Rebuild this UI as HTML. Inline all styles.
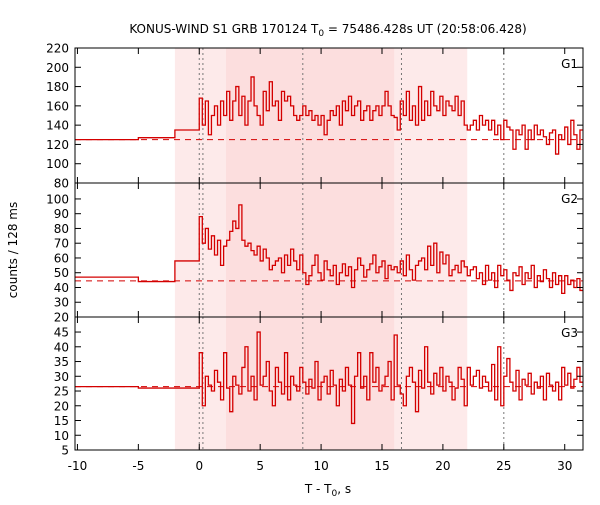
<!DOCTYPE html>
<html><head><meta charset="utf-8"><style>
body{margin:0;background:#fff;}
svg{font-family:"DejaVu Sans","Liberation Sans",sans-serif;}
</style></head><body>
<svg id="c" width="600" height="500" xmlns="http://www.w3.org/2000/svg">
<text x="328" y="33" font-size="12" text-anchor="middle">KONUS-WIND S1 GRB 170124 T<tspan font-size="9" dy="3">0</tspan><tspan dy="-3"> = 75486.428s UT (20:58:06.428)</tspan></text>
<text x="0" y="0" font-size="12" text-anchor="middle" transform="translate(17,250) rotate(-90)">counts / 128 ms</text>
<text x="328" y="493" font-size="12" text-anchor="middle">T - T<tspan font-size="9" dy="3">0</tspan><tspan dy="-3">, s</tspan></text>
</svg>
<script>
const xTicks=[-10,-5,0,5,10,15,20,25,30];
const vLines=[0,0.3,8.5,16.6,25];
const spanOuter=[-2,22];
const spanInner=[2.2,16];
const preEdges=[-10.2,-5,-2,0];
const binStart=0, binWidth=0.25;
const g1Pre=[125,127,135];
const g1=[168,140,165,130,150,160,140,165,
150,175,145,165,180,150,170,140,
165,190,160,150,140,175,155,185,
160,165,145,175,165,170,160,150,
145,150,160,150,155,145,150,140,
150,130,145,155,150,160,140,165,
155,170,150,160,165,145,155,160,
145,155,160,150,160,175,160,150,
148,135,165,150,175,145,160,140,
180,145,165,150,175,160,155,170,
150,165,160,155,170,150,165,140,
135,140,145,135,150,140,145,135,
145,130,140,125,145,138,135,115,
135,130,140,115,135,125,140,130,
135,128,120,132,135,110,130,125,
138,120,145,130,115,135];
const g1Bg=125;
const g1Ticks=[80,100,120,140,160,180,200,220];
const g2Pre=[47,44,58];
const g2=[88,70,80,66,75,62,72,55,
68,72,78,85,80,96,72,68,
70,65,62,68,58,66,60,52,
55,58,60,50,62,55,66,58,
52,62,50,42,48,55,62,50,
45,58,52,48,55,42,50,56,
48,54,40,52,60,55,47,52,
56,62,50,54,58,46,55,52,
54,50,58,48,62,52,45,55,
58,60,52,68,55,70,50,64,
56,62,48,52,55,50,58,54,
48,52,54,46,50,42,55,45,
50,40,55,48,52,45,38,50,
48,54,42,50,46,55,40,48,
44,52,46,40,50,42,48,36,
48,42,45,40,46,38];
const g2Bg=44.5;
const g2Ticks=[20,30,40,50,60,70,80,90,100];
const g3Pre=[26.5,26,26];
const g3=[38,20,30,27,25,32,28,22,
38,26,18,30,27,24,33,40,
25,30,22,45,27,30,35,25,
20,33,28,24,38,22,30,27,
25,33,28,24,29,26,35,22,
28,30,24,32,27,20,29,25,
33,27,14,30,38,26,30,22,
38,28,33,25,27,30,35,22,
44,27,24,20,30,33,28,18,
32,26,40,28,24,31,27,33,
25,30,28,22,26,33,29,20,
33,27,30,32,26,30,28,25,
34,22,40,20,30,36,28,25,
32,22,29,27,31,24,28,26,
30,22,31,27,25,28,22,33,
27,31,26,29,33,28];
const g3Bg=26.5;
const g3Ticks=[5,10,15,20,25,30,35,40,45];

const NS="http://www.w3.org/2000/svg";
const svg=document.getElementById('c');
const X0=75,X1=583,xmin=-10.2,xmax=31.5;
const sx=v=>X0+(v-xmin)/(xmax-xmin)*(X1-X0);
function el(t,a){const e=document.createElementNS(NS,t);for(const k in a)e.setAttribute(k,a[k]);svg.appendChild(e);return e;}
const panels=[
 {name:'g1',top:48,bot:183,ymin:80,ymax:220,pre:g1Pre,d:g1,bg:g1Bg,ticks:g1Ticks},
 {name:'g2',top:183,bot:317,ymin:20,ymax:110.8,pre:g2Pre,d:g2,bg:g2Bg,ticks:g2Ticks},
 {name:'g3',top:317,bot:450,ymin:5,ymax:50.1,pre:g3Pre,d:g3,bg:g3Bg,ticks:g3Ticks}];
panels.forEach((p,i)=>{
 const sy=v=>p.bot-(v-p.ymin)/(p.ymax-p.ymin)*(p.bot-p.top);
 let r=el('rect',{x:sx(spanOuter[0]),y:p.top,width:sx(spanOuter[1])-sx(spanOuter[0]),height:p.bot-p.top,fill:'#fdeaea'});
 
 
 r=el('rect',{x:sx(spanInner[0]),y:p.top,width:sx(spanInner[1])-sx(spanInner[0]),height:p.bot-p.top,fill:'#fcdede'});
 
 
 vLines.forEach(v=>{const l=el('line',{x1:sx(v),x2:sx(v),y1:p.top,y2:p.bot,stroke:'#777','stroke-width':1,'stroke-dasharray':'2,3'});
  
  });
 const bl=el('line',{x1:X0,x2:X1,y1:sy(p.bg),y2:sy(p.bg),stroke:'#d40000','stroke-width':1,'stroke-dasharray':'6,5'});
 
 
 let d='';
 for(let k=0;k<p.pre.length;k++){
  const a=sx(preEdges[k]),b=sx(preEdges[k+1]),y=sy(p.pre[k]);
  d+=(k==0?'M':'L')+a+','+y+'L'+b+','+y;}
 p.d.forEach((v,k)=>{const a=sx(binStart+k*binWidth),b=sx(Math.min(binStart+(k+1)*binWidth,xmax)),y=sy(v);d+='L'+a+','+y+'L'+b+','+y;});
 const ln=el('path',{d:d,fill:'none',stroke:'#d40000','stroke-width':1.3});
 
 
 p.ticks.forEach(t=>{const y=sy(t);
  el('line',{x1:X0,x2:X0+6,y1:y,y2:y,stroke:'#000'});el('line',{x1:X1,x2:X1-6,y1:y,y2:y,stroke:'#000'});
  const tx=el('text',{x:X0-6,y:y+4.5,'font-size':12,'text-anchor':'end'});tx.textContent=t;
  
  });
 xTicks.forEach(t=>{el('line',{x1:sx(t),x2:sx(t),y1:p.bot,y2:p.bot-6,stroke:'#000'});el('line',{x1:sx(t),x2:sx(t),y1:p.top,y2:p.top+6,stroke:'#000'});});
 const fr=el('rect',{x:X0,y:p.top,width:X1-X0,height:p.bot-p.top,fill:'none',stroke:'#000','stroke-width':1});
 
 
 const lb=el('text',{x:X1-5,y:p.top+20,'font-size':12,'text-anchor':'end'});lb.textContent=p.name.toUpperCase();
 
 
});
xTicks.forEach(t=>{const tx=el('text',{x:sx(t),y:470,'font-size':12,'text-anchor':'middle'});tx.textContent=t;
 
 });
</script>
</body></html>
